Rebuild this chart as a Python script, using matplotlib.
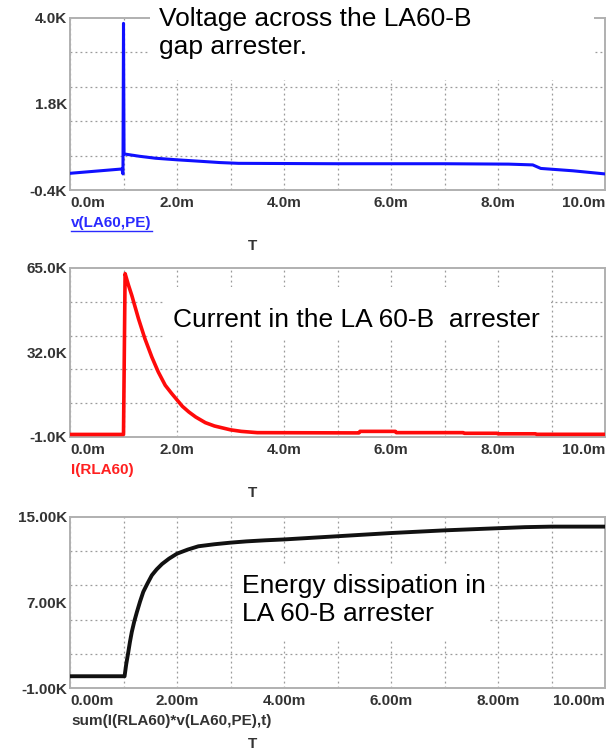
import numpy as np
import matplotlib.pyplot as plt
from matplotlib.patches import Rectangle
from matplotlib.lines import Line2D

plt.rcParams['font.family'] = ['Liberation Sans', 'DejaVu Sans']

# time axis in ms, values in K
t_v = [0, 0.97, 0.99, 1.0, 1.01, 1.3, 1.6, 2.0, 2.35, 2.8, 3.15, 5.0, 7.0, 8.2, 8.65, 8.8, 9.4, 10.0]
v_la60 = [0.026, 0.136, 0.01, 3.85, 0.52, 0.46, 0.41, 0.37, 0.34, 0.30, 0.28, 0.27, 0.27, 0.26, 0.24, 0.15, 0.09, 0.01]

t_i = [0, 1.0, 1.03, 1.09, 1.155, 1.28, 1.40, 1.53, 1.65, 1.78, 1.9, 2.0, 2.1, 2.22, 2.35, 2.53, 2.7, 3.0,
       3.2, 3.5, 5.4, 5.42, 6.08, 6.1, 7.35, 7.37, 7.98, 8.0, 8.7, 8.72, 10.0]
i_rla60 = [0, 0, 62.8, 58.5, 54.3, 45.2, 37.4, 30.2, 24.4, 19.2, 16.0, 13.5, 11.0, 8.8, 6.8, 4.6, 3.3, 1.8,
           1.2, 0.7, 0.6, 1.2, 1.2, 0.7, 0.7, 0.45, 0.45, 0.25, 0.25, 0.05, 0.05]

t_e = [0, 1.02, 1.05, 1.09, 1.12, 1.155, 1.2, 1.25, 1.31, 1.37, 1.45, 1.53, 1.62, 1.72, 1.85, 2.0, 2.2,
       2.4, 2.7, 3.0, 3.3, 3.65, 4.0, 5.0, 6.0, 7.0, 8.0, 8.5, 9.0, 10.0]
e_sum = [0.1, 0.1, 1.2, 2.37, 3.3, 4.24, 5.2, 6.1, 7.1, 8.0, 8.8, 9.55, 10.1, 10.6, 11.1, 11.57, 11.95,
         12.26, 12.45, 12.6, 12.72, 12.82, 12.9, 13.2, 13.5, 13.75, 13.95, 14.05, 14.1, 14.1]

x_ticks = [0, 2, 4, 6, 8, 10]
x_labels_1 = ['0.0m', '2.0m', '4.0m', '6.0m', '8.0m', '10.0m']
x_labels_3 = ['0.00m', '2.00m', '4.00m', '6.00m', '8.00m', '10.00m']

W, H = 612, 752
fig = plt.figure(figsize=(W / 100, H / 100), dpi=100)


def px_rect(x0, y0, x1, y1):
    # figure pixel box (y from top) -> figure fraction
    return [x0 / W, 1 - y1 / H, (x1 - x0) / W, (y1 - y0) / H]


panels = [
    dict(top=17.5, bot=190, t=t_v, y=v_la60, ylim=(-0.4, 4.0), ylab=['-0.4K', '1.8K', '4.0K'],
         xlab=x_labels_1, color='#1010ff', lw=2.2, name='v(LA60,PE)', ncol='#2a2aff'),
    dict(top=268, bot=437, t=t_i, y=i_rla60, ylim=(-1.0, 65.0), ylab=['-1.0K', '32.0K', '65.0K'],
         xlab=x_labels_1, color='#ff0a0a', lw=2.6, name='I(RLA60)', ncol='#ff2020'),
    dict(top=517, bot=688, t=t_e, y=e_sum, ylim=(-1.0, 15.0), ylab=['-1.00K', '7.00K', '15.00K'],
         xlab=x_labels_3, color='#111111', lw=2.8, name='sum(I(RLA60)*v(LA60,PE),t)', ncol='#333333'),
]

name_texts = []
for p in panels:
    ax = fig.add_axes(px_rect(70, p['top'], 605, p['bot']))
    ax.plot(p['t'], p['y'], color=p['color'], lw=p['lw'], solid_joinstyle='round', zorder=3)
    lo, hi = p['ylim']
    ax.set_xlim(0, 10)
    ax.set_ylim(lo, hi)

    ax.set_xticks(x_ticks)
    ax.set_xticklabels(p['xlab'])
    ax.set_xticks(np.arange(0, 11, 1), minor=True)
    ax.set_yticks([lo, (lo + hi) / 2, hi])
    ax.set_yticklabels(p['ylab'])
    ax.set_yticks([lo + k * (hi - lo) / 5 for k in range(1, 5)], minor=True)

    ax.tick_params(which='both', length=0)
    ax.tick_params(axis='x', pad=4, labelsize=11, labelcolor='#333333')
    ax.tick_params(axis='y', pad=2, labelsize=11, labelcolor='#333333')
    for lab in ax.get_xticklabels() + ax.get_yticklabels():
        lab.set_fontweight('bold')
    xl = ax.get_xticklabels()
    xl[0].set_ha('left')
    xl[-1].set_ha('right')

    ax.grid(True, axis='x', which='both', color='#9a9a9a', ls=(0, (1.5, 2.5)), lw=0.9)
    ax.grid(True, axis='y', which='minor', color='#9a9a9a', ls=(0, (1.5, 2.5)), lw=0.9)
    ax.set_axisbelow(True)
    for s in ax.spines.values():
        s.set_color('#b0b0b0')
        s.set_linewidth(1.4)

    nt = fig.text(71 / W, 1 - (p['bot'] + 33) / H, p['name'], color=p['ncol'], fontsize=11,
                  fontweight='bold', ha='left', va='center')
    name_texts.append(nt)
    fig.text(253 / W, 1 - (p['bot'] + 56) / H, 'T', color='#333333', fontsize=11,
             fontweight='bold', ha='center', va='center')

# white text boxes over the plots
for box in [(150, 0, 594, 80), (165, 287, 551, 340), (235, 565, 488, 640)]:
    r = px_rect(*box)
    fig.add_artist(Rectangle(r[:2], r[2], r[3], transform=fig.transFigure,
                             facecolor='white', edgecolor='none', zorder=5))

fig.text(159 / W, 1 - 33 / H, 'Voltage across the LA60-B\ngap arrester.', fontsize=19,
         ha='left', va='center', linespacing=1.25, zorder=6)
fig.text(173 / W, 1 - 320 / H, 'Current in the LA 60-B  arrester', fontsize=19,
         ha='left', va='center', zorder=6)
fig.text(242 / W, 1 - 600 / H, 'Energy dissipation in\nLA 60-B arrester', fontsize=19,
         ha='left', va='center', linespacing=1.25, zorder=6)

# underline under the first trace name
renderer = fig.canvas.get_renderer()
bb = name_texts[0].get_window_extent(renderer)
fig.add_artist(Line2D([bb.x0 / W, bb.x1 / W], [(bb.y0 - 1) / H, (bb.y0 - 1) / H],
                      transform=fig.transFigure, color='#2a2aff', lw=1))

fig.savefig('out.png', dpi=100)
